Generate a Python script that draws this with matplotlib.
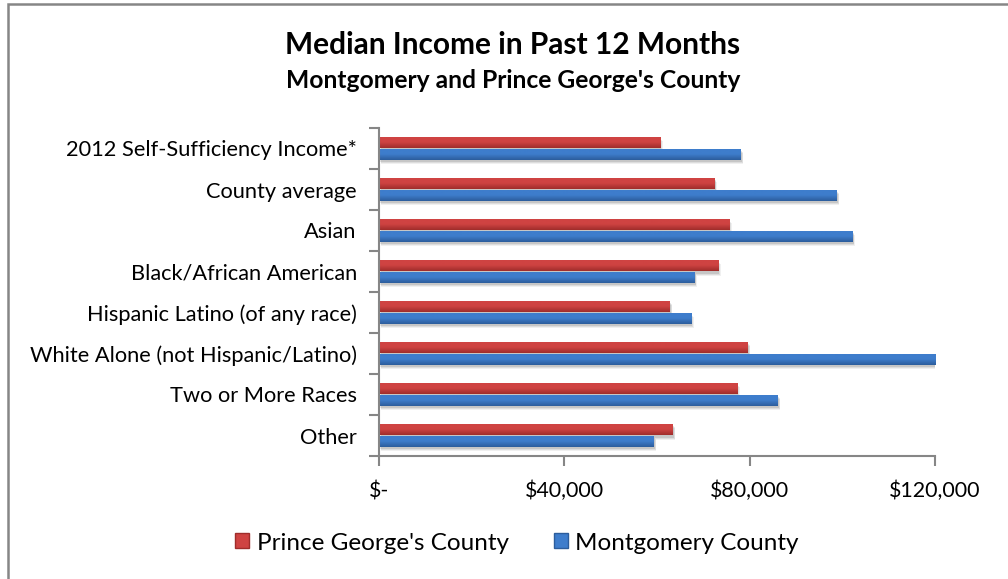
#!/usr/bin/env python3
"""Median income by race/ethnicity, Montgomery vs Prince George's County."""

import matplotlib

matplotlib.use("Agg")
import matplotlib.pyplot as plt
import numpy as np
from matplotlib.colors import LinearSegmentedColormap
from matplotlib.patches import Patch, Rectangle
from matplotlib.transforms import offset_copy

plt.rcParams["font.family"] = ["Lato", "DejaVu Sans"]

categories = [
    "2012 Self-Sufficiency Income*",
    "County average",
    "Asian",
    "Black/African American",
    "Hispanic Latino (of any race)",
    "White Alone (not Hispanic/Latino)",
    "Two or More Races",
    "Other",
]
prince_georges = [60700, 72400, 75600, 73200, 62800, 79600, 77300, 63400]
montgomery = [78100, 98800, 102200, 68100, 67400, 120200, 86100, 59300]

series_names = ["Prince George's County", "Montgomery County"]
x_ticks = [0, 40000, 80000, 120000]
x_tick_labels = ["$-", "$40,000", "$80,000", "$120,000"]

RED_LIGHT, RED_DARK = "#cf4342", "#9f2d2b"
BLUE_LIGHT, BLUE_DARK = "#3e7dcc", "#2c5d9c"
AXIS_GREY = "#868686"

W, H = 1008, 579
fig = plt.figure(figsize=(W / 100, H / 100), dpi=100)
ax = fig.add_axes([379 / W, 1 - 456 / H, (935 - 379) / W, (456 - 128) / H])

# outer chart frame (runs off the right and bottom edges)
fig.patches.append(
    Rectangle((8 / W, -0.2), 1.2, 1.2 - 4 / H, transform=fig.transFigure,
              fill=False, edgecolor=AXIS_GREY, linewidth=1.8)
)

y = np.arange(len(categories))
bar_h = 0.285


def gradient_bars(values, offset, light, dark):
    cmap = LinearSegmentedColormap.from_list("g", [light, light, dark])
    grad = np.linspace(0, 1, 64)[:, None]
    # soft drop shadow
    for k, a in ((4, 0.06), (3, 0.08), (2, 0.1)):
        sh = offset_copy(ax.transData, fig=fig, x=k * 0.6, y=-k, units="dots")
        ax.barh(y + offset, values, height=bar_h, color="#000000", alpha=a,
                transform=sh, zorder=1, linewidth=0)
    bars = ax.barh(y + offset, values, height=bar_h, facecolor="none",
                   edgecolor="none", zorder=3)
    for rect in bars:
        x0, y0 = rect.get_x(), rect.get_y()
        w, h = rect.get_width(), rect.get_height()
        im = ax.imshow(grad, cmap=cmap, aspect="auto", zorder=2,
                       extent=(x0, x0 + w, y0 + h, y0), origin="upper")
        im.set_clip_path(rect)
        im.set_clip_on(True)
    return bars


gradient_bars(prince_georges, -bar_h / 2, RED_LIGHT, RED_DARK)
gradient_bars(montgomery, bar_h / 2, BLUE_LIGHT, BLUE_DARK)

ax.set_xlim(0, 120000)
ax.set_ylim(len(categories) - 0.5, -0.5)

for side in ("top", "right"):
    ax.spines[side].set_visible(False)
for side in ("left", "bottom"):
    ax.spines[side].set_color(AXIS_GREY)
    ax.spines[side].set_linewidth(1.5)
    ax.spines[side].set_zorder(5)

ax.set_xticks(x_ticks)
ax.set_xticklabels(x_tick_labels)
ax.set_yticks(y)
ax.set_yticklabels(categories)
ax.set_yticks(np.arange(len(categories) + 1) - 0.5, minor=True)
ax.tick_params(axis="y", which="major", length=0, pad=16, labelsize=15.7)
ax.tick_params(axis="y", which="minor", length=7, width=1.5, color=AXIS_GREY)
ax.tick_params(axis="x", length=7, width=1.5, color=AXIS_GREY, pad=11,
               labelsize=15.4)

fig.text(513 / W, 1 - 45 / H, "Median Income in Past 12 Months",
         ha="center", va="center", fontsize=21.5, fontweight="bold")
fig.text(513 / W, 1 - 80 / H, "Montgomery and Prince George's County",
         ha="center", va="center", fontsize=17.7, fontweight="bold")

handles = [Patch(facecolor=RED_LIGHT, edgecolor=RED_DARK),
           Patch(facecolor=BLUE_LIGHT, edgecolor=BLUE_DARK)]
fig.legend(handles, series_names, loc="center", ncol=2,
           bbox_to_anchor=(517 / W, 1 - 543 / H), frameon=False,
           fontsize=17.5, handlelength=0.58, handleheight=0.58,
           handletextpad=0.3, columnspacing=1.85)

fig.savefig("out.png", dpi=100)
